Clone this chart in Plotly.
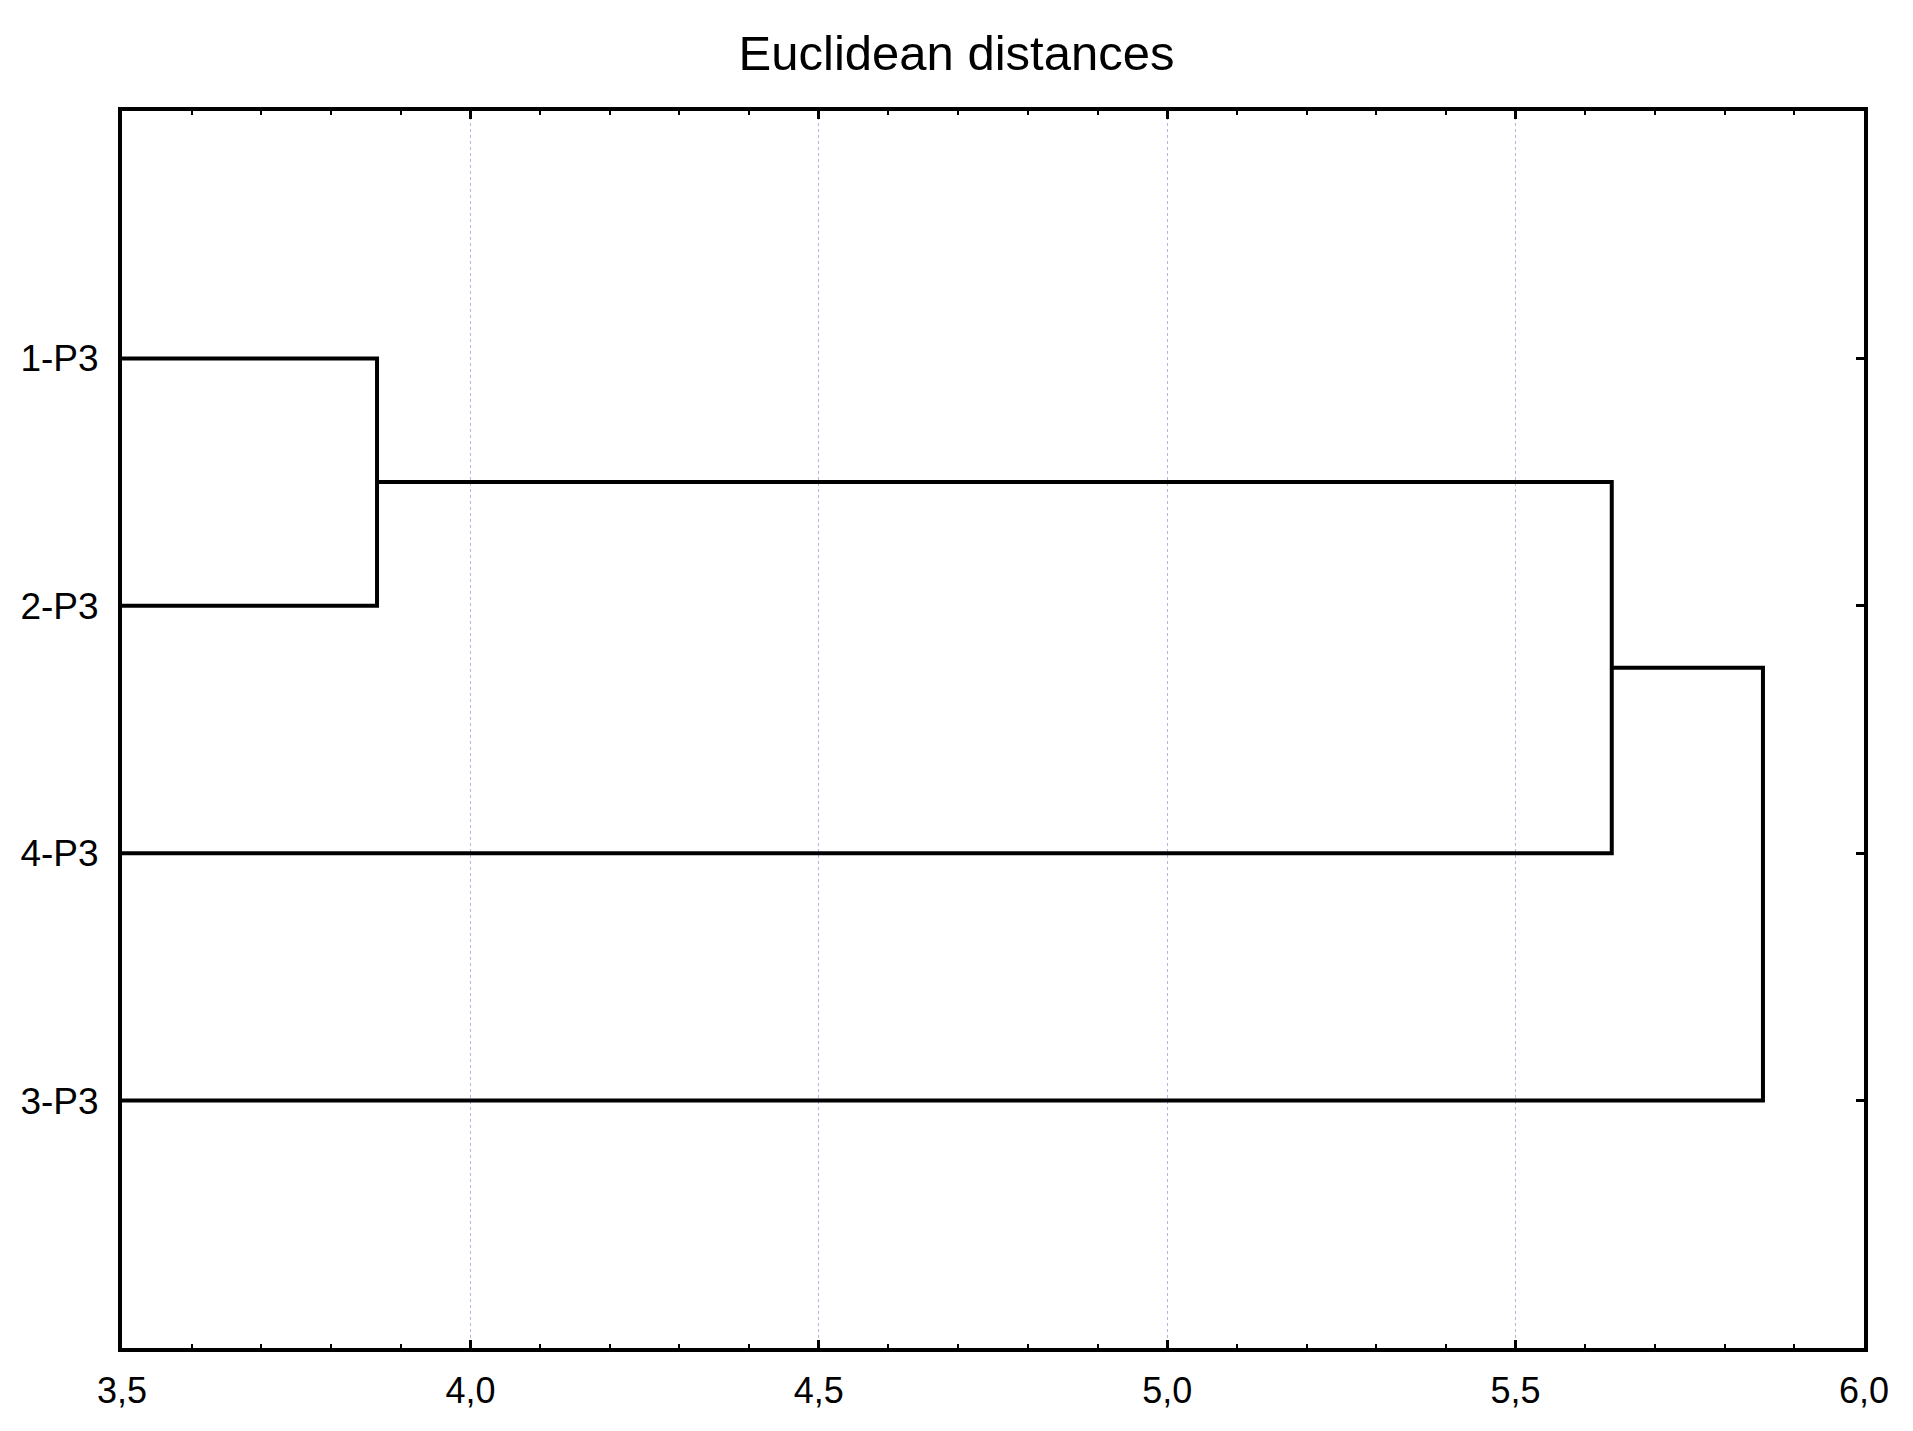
from plotly import graph_objs as go

# листья в порядке сверху вниз
leaves = ["1-P3", "2-P3", "4-P3", "3-P3"]
# слияния: (узел, узел, расстояние); узлы 0..3 - листья, 4.. - кластеры
merges = [(0, 1, 3.866), (4, 2, 5.638), (5, 3, 5.855)]
x_ticks = [3.5, 4.0, 4.5, 5.0, 5.5, 6.0]
x_tick_labels = ["3,5", "4,0", "4,5", "5,0", "5,5", "6,0"]

FONT = "Liberation Sans, Arial, sans-serif"


def dendro_segments(leaves, merges):
    """Строит координаты ломаных дендрограммы (горизонтальная ориентация)."""
    pos = {i: (0.0, i + 1) for i in range(len(leaves))}
    segs = []
    for k, (a, b, h) in enumerate(merges):
        xa, ya = pos[a]
        xb, yb = pos[b]
        segs.append(([xa, h, h, xb], [ya, ya, yb, yb]))
        pos[len(leaves) + k] = (h, (ya + yb) / 2)
    return segs


fig = go.Figure()
for xs, ys in dendro_segments(leaves, merges):
    fig.add_trace(go.Scatter(x=xs, y=ys, mode="lines", showlegend=False, hoverinfo="none",
                             line=dict(color="black", width=4)))

# страница имеет отступ 8px, поэтому фигура чуть меньше окна
fig.update_layout(
    width=1897, height=1415,
    margin=dict(l=104, r=41, t=103, b=67),
    paper_bgcolor="white", plot_bgcolor="white",
    title=dict(text="Euclidean distances", x=0.5, xref="container", xanchor="center",
               y=1 - 45 / 1415, yref="container", yanchor="middle",
               font=dict(family=FONT, size=49, color="black")),
    font=dict(family=FONT, color="black"),
)
fig.update_xaxes(range=[3.5, 6.0], tickvals=x_ticks, ticktext=x_tick_labels,
                 ticks="inside", ticklen=8, tickwidth=3, tickcolor="black",
                 minor=dict(dtick=0.1, ticks="inside", ticklen=4, tickwidth=2, tickcolor="black",
                            showgrid=False),
                 showline=True, linecolor="black", linewidth=4, mirror="ticks",
                 showgrid=True, gridcolor="#c0aee0", griddash="dot", gridwidth=1,
                 zeroline=False, tickfont=dict(size=36), ticklabelstandoff=8)
fig.update_yaxes(range=[5, 0], tickvals=list(range(1, len(leaves) + 1)), ticktext=leaves,
                 ticks="inside", ticklen=8, tickwidth=3, tickcolor="black",
                 showline=True, linecolor="black", linewidth=4, mirror="ticks",
                 showgrid=False, zeroline=False, tickfont=dict(size=37), ticklabelstandoff=12)

fig.write_html("out.html")
